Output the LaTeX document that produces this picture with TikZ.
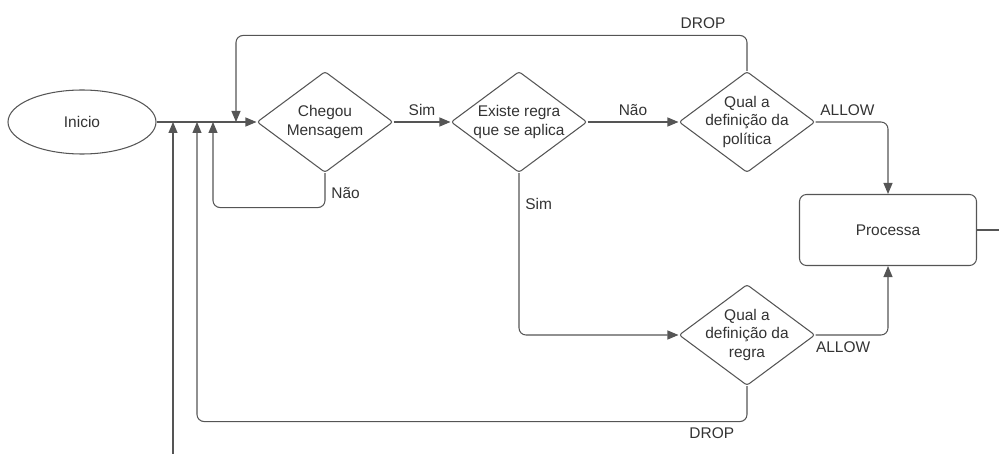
\documentclass[tikz,border=0pt]{standalone}
\usepackage{fontspec}
\setmainfont{Liberation Sans}
\usetikzlibrary{shapes.geometric,arrows.meta}
\definecolor{linegray}{RGB}{85,85,85}
\definecolor{textgray}{RGB}{51,51,51}
\begin{document}
\begin{tikzpicture}[
    font=\fontsize{8.8}{10.3}\selectfont, text=textgray,
    decision/.style={draw=linegray, line width=0.6pt, diamond, aspect=1.35, inner sep=0pt, minimum width=2.72cm, minimum height=2.02cm, rounded corners=1.5pt},
    flow/.style={draw=linegray, line width=0.6pt, rounded corners=4pt, -{Triangle[length=0.22cm,width=0.18cm]}},
    plain/.style={draw=linegray, line width=0.6pt, rounded corners=4pt}]
\useasboundingbox (0,0) rectangle (19.98,9.06);

\path (1.64,6.62) node (inicio) [draw=linegray, line width=0.6pt, ellipse, minimum width=2.96cm, minimum height=1.28cm] {Inicio};

\path (6.50,6.62) node (chegou) [decision, label={[align=center]center:Chegou\\Mensagem}] {};
\path (10.38,6.62) node (existe) [decision, label={[align=center]center:Existe regra\\que se aplica}] {};
\path (14.94,6.62) node (politica) [decision, label={[align=center]center:Qual a\\definição da\\política}] {};
\path (14.94,2.36) node (regra) [decision, label={[align=center]center:Qual a\\definição da\\regra}] {};

\path (17.76,4.46) node (processa) [draw=linegray, line width=0.6pt, rounded corners=4pt, minimum width=3.54cm, minimum height=1.42cm] {Processa};

% pontos onde os retornos chegam na linha de entrada
\coordinate (jfora) at (3.46,6.62);
\coordinate (jregra) at (3.94,6.62);
\coordinate (jnao) at (4.26,6.62);
\coordinate (jpol) at (4.72,6.62);
\coordinate (fundo) at (3.46,-0.1);
\coordinate (saida) at (20.1,4.46);

\draw[flow] (inicio.east) -- (chegou.west);
\draw[flow] (chegou.south) -- node[right, pos=0.57] {Não} ++(0,-0.69) -| (jnao);
\draw[flow] (chegou.east) -- node[above] {Sim} (existe.west);
\draw[flow] (existe.east) -- node[above] {Não} (politica.west);
\draw[flow] (existe.south) |- node[right, pos=0.094] {Sim} (regra.west);

\draw[flow] (politica.north) -- ++(0,0.71) -| node[above, pos=0.043] {DROP} (jpol);
\draw[flow] (politica.east) -| node[above, pos=0.22] {ALLOW} (processa.north);
\draw[flow] (regra.east) -| node[below, pos=0.19] {ALLOW} (processa.south);
\draw[flow] (regra.south) -- ++(0,-0.71) -| node[below, pos=0.032] {DROP} (jregra);

\draw[flow] (fundo) -- (jfora);
\draw[plain] (processa.east) -- (saida);

\end{tikzpicture}
\end{document}
